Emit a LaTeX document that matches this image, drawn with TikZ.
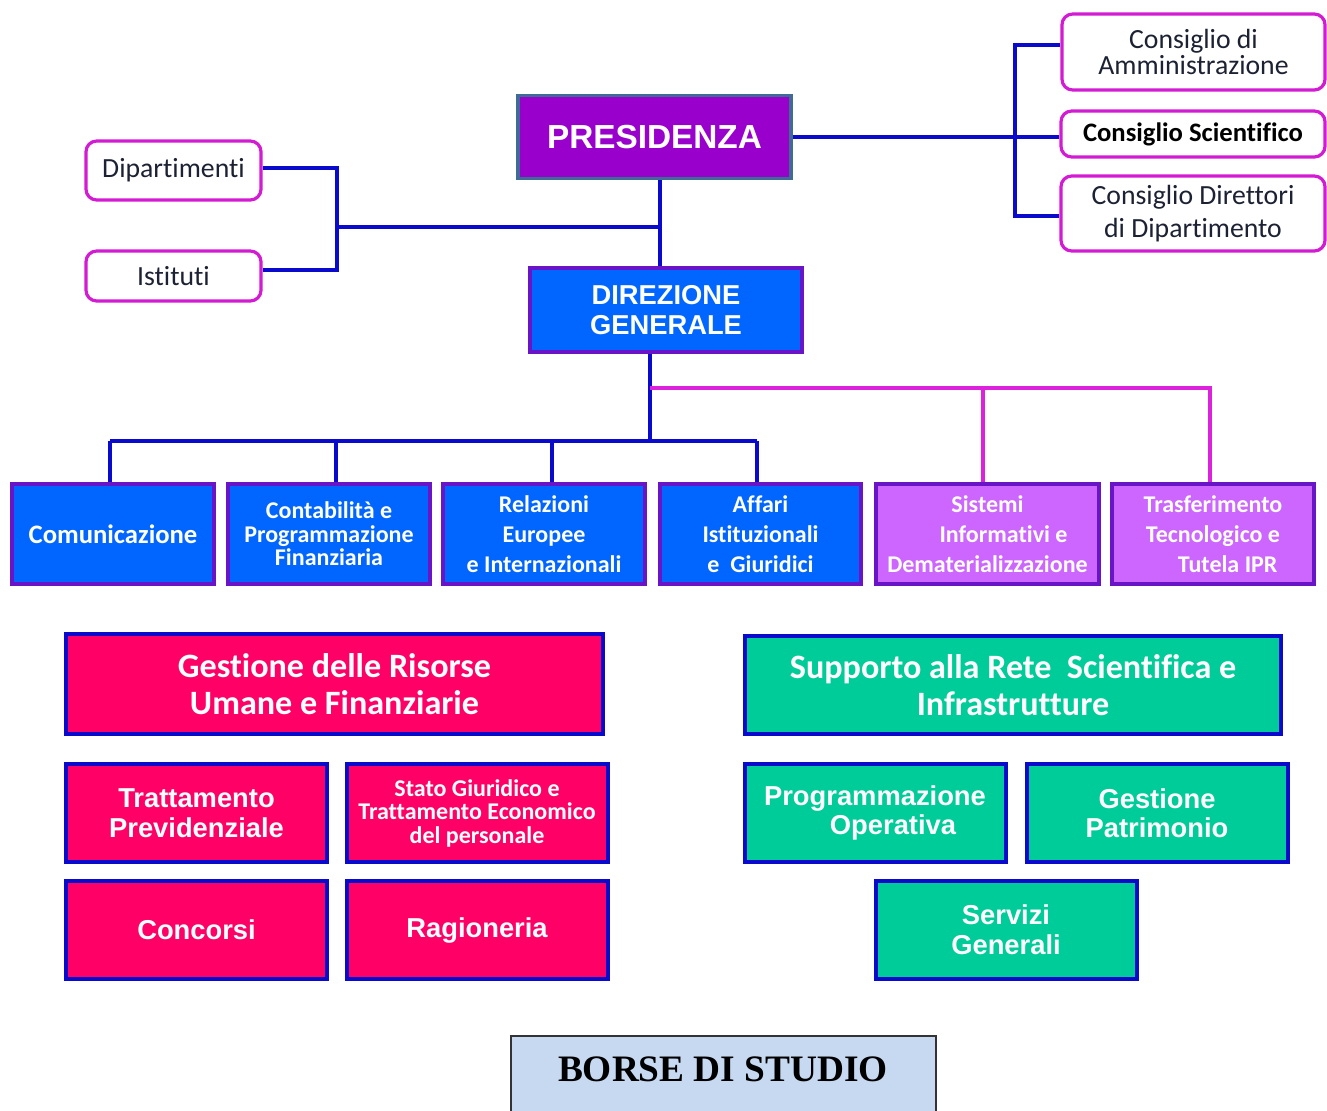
\documentclass[tikz,border=0pt]{standalone}
\usepackage{fontspec}
\setmainfont{Liberation Sans}
\newfontfamily\cali[Ligatures=NoCommon]{Carlito}
\newfontfamily\arl{Liberation Sans}
\newfontfamily\tms{Liberation Serif}
\newcommand\fsz[2]{\fontsize{#1}{#2}\selectfont}
\definecolor{presfill}{HTML}{9900CC}
\definecolor{presborder}{HTML}{3F6C96}
\definecolor{bluefill}{HTML}{0066FF}
\definecolor{purpborder}{HTML}{6A14C8}
\definecolor{violetfill}{HTML}{CC66FF}
\definecolor{pinkfill}{HTML}{FF0066}
\definecolor{greenfill}{HTML}{00CC99}
\definecolor{dkblue}{HTML}{0A0ACC}
\definecolor{magline}{HTML}{DD22DD}
\definecolor{magborder}{HTML}{D21BD2}
\definecolor{borsefill}{HTML}{C6D9F1}
\definecolor{dktext}{HTML}{1C2233}
\tikzset{
  base/.style={draw, inner sep=0pt, align=center, text=white},
  presbox/.style={base, fill=presfill, draw=presborder, line width=2.4pt,
    font=\arl\bfseries\fsz{25pt}{28pt}},
  dirbox/.style={base, fill=bluefill, draw=purpborder, line width=2.4pt,
    font=\arl\bfseries\fsz{20.5pt}{22.5pt}},
  roundbox/.style={draw=magborder, fill=white, line width=2.4pt, rounded corners=8pt,
    inner sep=0pt, align=center, text=dktext, font=\cali\fsz{20.8pt}{20pt}},
  unitbox/.style={base, fill=bluefill, draw=purpborder, line width=3pt,
    minimum width=151.5pt, minimum height=75pt,
    font=\cali\bfseries\fsz{18pt}{22.5pt}},
  violetbox/.style={unitbox, fill=violetfill},
  pinkbox/.style={base, fill=pinkfill, draw=dkblue, line width=3pt},
  greenbox/.style={base, fill=greenfill, draw=dkblue, line width=3pt},
  smallbox/.style={minimum width=195.75pt, minimum height=73.5pt},
  widebox/.style={minimum width=402.5pt, minimum height=74pt},
  bigcal/.style={font=\cali\bfseries\fsz{25.6pt}{28pt}},
  arlb/.style={font=\arl\bfseries\fsz{20.5pt}{22.5pt}},
  borsebox/.style={draw=black!80, fill=borsefill, line width=1.5pt, inner sep=0pt},
  bl/.style={draw=dkblue, line width=2.3pt},
  mg/.style={draw=magline, line width=2.3pt}
}
\begin{document}
\begin{tikzpicture}[x=0.75pt,y=-0.75pt]
\useasboundingbox (0,0) rectangle (1327,1110);

% top level
\node[presbox, minimum width=204.75pt, minimum height=62.25pt] (pres) at (654.5,137) {PRESIDENZA};
\node[dirbox, minimum width=204pt, minimum height=63pt] (dir) at (666,310) {DIREZIONE\\GENERALE};

\node[roundbox, minimum width=131.25pt, minimum height=44.25pt] (dip) at (173.5,170.5) {Dipartimenti};
\node[roundbox, minimum width=131.25pt, minimum height=37.5pt] (ist) at (173.5,276) {Istituti};

\node[roundbox, minimum width=197.25pt, minimum height=57pt, font=\cali\fsz{20.8pt}{20pt}] (cda) at (1193.5,52) {Consiglio di\\Amministrazione};
\node[roundbox, minimum width=198pt, minimum height=34.5pt, font=\cali\bfseries\fsz{20pt}{20pt}, text=black] (cs) at (1193,134) {Consiglio Scientifico};
\node[roundbox, minimum width=198pt, minimum height=56.25pt, font=\cali\fsz{20.8pt}{25pt}] (cdd) at (1193,213.5) {Consiglio Direttori\\di Dipartimento};

% level 3
\node[unitbox, font=\cali\bfseries\fsz{20pt}{22.5pt}] (com) at (113,534) {Comunicazione};
\node[unitbox, font=\cali\bfseries\fsz{18pt}{17.6pt}] (cont) at (329,534) {Contabilità e\\Programmazione\\Finanziaria};
\node[unitbox] (rel) at (544,534) {Relazioni\\Europee\\e Internazionali};
\node[unitbox, minimum width=150.75pt] (aff) at (760.5,534) {Affari\\Istituzionali\\e\ \ Giuridici};
\node[violetbox, minimum width=167.25pt] (sis) at (987.5,534) {Sistemi\\\hspace*{24pt}Informativi e\\Dematerializzazione};
\node[violetbox] (tra) at (1213,534) {Trasferimento\\Tecnologico e\\\hspace*{22pt}Tutela IPR};

% pink group
\node[pinkbox, widebox, minimum height=75pt, bigcal] (gest) at (334.5,684) {Gestione delle Risorse\\Umane e Finanziarie};
\node[pinkbox, smallbox, arlb] (tp) at (196.5,813) {Trattamento\\Previdenziale};
\node[pinkbox, smallbox, font=\cali\bfseries\fsz{18pt}{17.6pt}] (sg) at (477,813) {Stato Giuridico e\\Trattamento Economico\\del personale};
\node[pinkbox, smallbox, arlb] (conc) at (196.5,930) {Concorsi};
\node[pinkbox, smallbox, arlb] (rag) at (477,930) {Ragioneria};

% green group
\node[greenbox, widebox, bigcal] (sup) at (1013,685) {Supporto alla Rete\ \ Scientifica e\\Infrastrutture};
\node[greenbox, smallbox, font=\arl\bfseries\fsz{20.5pt}{21.75pt}] (po) at (875,813) {Programmazione\\\hspace*{27pt}Operativa};
\node[greenbox, smallbox, font=\arl\bfseries\fsz{20.5pt}{21.75pt}] (gp) at (1157,813) {Gestione\\Patrimonio};
\node[greenbox, smallbox, font=\arl\bfseries\fsz{20.5pt}{22.5pt}] (sgen) at (1006,930) {Servizi\\Generali};

% bottom
\node[borsebox, minimum width=318.75pt, minimum height=58.5pt] (borse) at (723.5,1075) {};
\node[font=\tms\bfseries\fsz{28pt}{30pt}, inner sep=0pt] (borsetxt) at (723,1069) {BORSE DI STUDIO};

% connectors
\coordinate (vmid) at (660,227);
\coordinate (jL) at (337,227);
\coordinate (kL1) at (337,168);
\coordinate (kL2) at (337,270);
\coordinate (jR) at (1015,134);
\coordinate (kR1) at (1015,45);
\coordinate (kR2) at (1015,216);
\coordinate (d1) at (650,441);
\coordinate (d2) at (650,388);
\coordinate (c1) at (110,441);
\coordinate (c2) at (336,441);
\coordinate (c3) at (552,441);
\coordinate (c4) at (757,441);
\coordinate (m1) at (983,388);
\coordinate (m2) at (1210,388);

\draw[bl] (pres.south -| vmid) -- (dir.north -| vmid);
\draw[bl] (jL) -- (vmid);
\draw[bl] (kL1 -| dip.east) -- (kL1) -- (kL2) -- (kL2 -| ist.east);

\draw[bl] (pres.east) -- (pres.east -| cs.west);
\draw[bl] (kR1 -| cda.west) -- (kR1) -- (kR2) -- (kR2 -| cdd.west);

\draw[bl] (dir.south -| d1) -- (d1);
\draw[bl] (c1) -- (c4);
\draw[bl] (c1) -- (c1 |- com.north);
\draw[bl] (c2) -- (c2 |- cont.north);
\draw[bl] (c3) -- (c3 |- rel.north);
\draw[bl] (c4) -- (c4 |- aff.north);

\draw[mg] (d2) -- (m2) -- (m2 |- tra.north);
\draw[mg] (m1) -- (m1 |- sis.north);
\end{tikzpicture}
\end{document}
